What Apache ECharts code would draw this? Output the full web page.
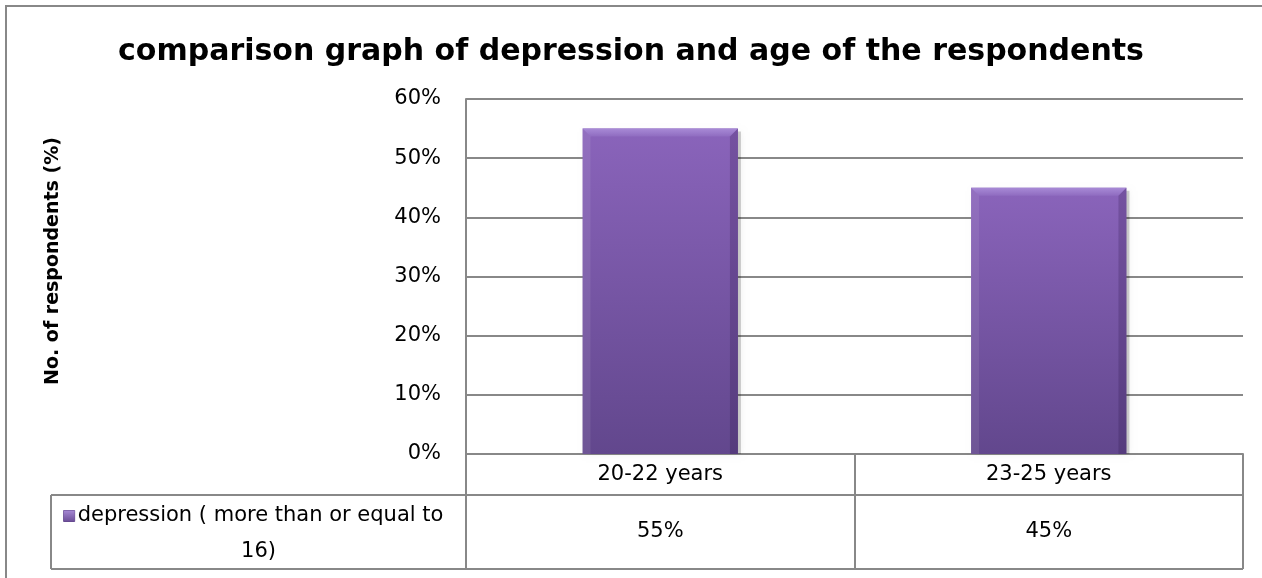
<!DOCTYPE html>
<html>
<head>
<meta charset="utf-8">
<script src="https://cdn.jsdelivr.net/npm/echarts@6/dist/echarts.min.js"></script>
<style>
  html, body { margin: 0; padding: 0; background: #ffffff; }
  #chart { width: 1262px; height: 578px; }
</style>
</head>
<body>
<div id="chart"></div>
<script>
// Depression (CES-D >= 16) share of respondents by age group
const categories = ['20-22 years', '23-25 years'];
const depression = [0.55, 0.45];
const seriesName = 'depression ( more than or equal to 16)';
const titleText = 'comparison graph of depression and age of the respondents';
const yAxisTitle = 'No. of respondents (%)';
const yTicks = { min: 0, max: 0.6, interval: 0.1 };

const FONT = '"DejaVu Sans", sans-serif';
const LINE = '#888888';
const pct = v => Math.round(v * 100) + '%';

// plot rectangle
const G = { left: 466, right: 1243, top: 99, bottom: 454 };
const TABLE = { left: 51, row1: 454, row2: 495, bottom: 569 };

const chart = echarts.init(document.getElementById('chart'), null, { renderer: 'canvas' });

function renderBar(params, api) {
  const idx = api.value(0);
  const top = api.coord([idx, api.value(1)]);
  const base = api.coord([idx, 0]);
  const w = api.size([1, 0])[0] * 0.4;
  const x0 = top[0] - w / 2, x1 = top[0] + w / 2;
  const y0 = top[1], y1 = base[1];
  const b = 8; // bevel depth
  return {
    type: 'group',
    children: [
      { type: 'rect', shape: { x: x0 + 3, y: y0 + 3, width: w, height: y1 - y0 - 3 },
        style: { fill: 'rgba(0,0,0,0.18)', shadowBlur: 6, shadowColor: 'rgba(0,0,0,0.35)' } },
      { type: 'rect', shape: { x: x0, y: y0, width: w, height: y1 - y0 },
        style: { fill: new echarts.graphic.LinearGradient(0, 0, 0, 1, [
          { offset: 0, color: '#8a64bb' }, { offset: 1, color: '#62478d' }]) } },
      // top bevel
      { type: 'polygon', shape: { points: [[x0, y0], [x1, y0], [x1 - b, y0 + b], [x0 + b, y0 + b]] },
        style: { fill: new echarts.graphic.LinearGradient(0, 0, 0, 1, [
          { offset: 0, color: '#a88ad6' }, { offset: 1, color: '#8f6cc0' }]) } },
      // left bevel
      { type: 'polygon', shape: { points: [[x0, y0], [x0 + b, y0 + b], [x0 + b, y1], [x0, y1]] },
        style: { fill: 'rgba(255,255,255,0.08)' } },
      // right bevel
      { type: 'polygon', shape: { points: [[x1, y0], [x1 - b, y0 + b], [x1 - b, y1], [x1, y1]] },
        style: { fill: 'rgba(40,20,70,0.22)' } }
    ]
  };
}

// legend text wraps after "to", as in the data table's narrow first column
const nameParts = seriesName.split(' 16)');
const cellMid = (TABLE.left + G.left) / 2;

chart.setOption({
  animation: false,
  backgroundColor: '#ffffff',
  title: {
    text: titleText, left: 'center', top: 32,
    textStyle: { fontFamily: FONT, fontWeight: 'bold', fontSize: 30, color: '#000000' }
  },
  grid: { left: G.left, right: 1262 - G.right, top: G.top, bottom: 578 - G.bottom },
  xAxis: [{
    type: 'category', data: categories,
    axisLine: { show: true, lineStyle: { color: LINE, width: 2 } },
    axisTick: { show: true, interval: 0, length: TABLE.bottom - TABLE.row1, lineStyle: { color: LINE, width: 2 } },
    axisLabel: { margin: 21, verticalAlign: 'middle', fontFamily: FONT, fontSize: 21, color: '#000000' }
  }, {
    type: 'category', data: depression.map(pct), position: 'bottom',
    axisLine: { show: false }, axisTick: { show: false },
    axisLabel: { margin: 78, verticalAlign: 'middle', fontFamily: FONT, fontSize: 21, color: '#000000' }
  }],
  yAxis: {
    type: 'value', min: yTicks.min, max: yTicks.max, interval: yTicks.interval,
    axisLine: { show: true, lineStyle: { color: LINE, width: 2 } },
    axisTick: { show: false },
    splitLine: { lineStyle: { color: LINE, width: 2 } },
    axisLabel: { formatter: pct, margin: 25, fontFamily: FONT, fontSize: 21, color: '#000000' }
  },
  series: [{
    type: 'custom', name: seriesName, xAxisIndex: 0,
    renderItem: renderBar,
    encode: { x: 0, y: 1 },
    data: depression.map((v, i) => [i, v]),
    z: 5
  }],
  graphic: [
    // chart frame
    { type: 'rect', shape: { x: 6, y: 6, width: 1400, height: 800 }, silent: true,
      style: { fill: 'none', stroke: LINE, lineWidth: 2 }, z: 100 },
    // value axis title
    { type: 'text', x: 53, y: 261, rotation: Math.PI / 2,
      style: { text: yAxisTitle, align: 'center', verticalAlign: 'middle',
        fontFamily: FONT, fontWeight: 'bold', fontSize: 19, fill: '#000000' } },
    // data table rules
    { type: 'line', shape: { x1: TABLE.left, y1: TABLE.row2, x2: G.right, y2: TABLE.row2 },
      style: { stroke: LINE, lineWidth: 2 } },
    { type: 'line', shape: { x1: TABLE.left, y1: TABLE.bottom, x2: G.right, y2: TABLE.bottom },
      style: { stroke: LINE, lineWidth: 2 } },
    { type: 'line', shape: { x1: TABLE.left, y1: TABLE.row2, x2: TABLE.left, y2: TABLE.bottom },
      style: { stroke: LINE, lineWidth: 2 } },
    // legend key inside the table
    { type: 'text', x: cellMid - 5, y: 516,
      style: {
        text: '{k|}{g|}' + nameParts[0],
        align: 'center', verticalAlign: 'middle', fontFamily: FONT, fontSize: 21, fill: '#000000',
        rich: {
          k: { width: 11, height: 11, backgroundColor: new echarts.graphic.LinearGradient(0, 0, 0, 1, [
            { offset: 0, color: '#a88ad6' }, { offset: 1, color: '#6a4c96' }]),
            borderColor: '#5f4488', borderWidth: 0.5 },
          g: { width: 3 }
        }
      } },
    { type: 'text', x: cellMid, y: 552,
      style: { text: '16)', align: 'center', verticalAlign: 'middle',
        fontFamily: FONT, fontSize: 21, fill: '#000000' } }
  ]
});
</script>
</body>
</html>
